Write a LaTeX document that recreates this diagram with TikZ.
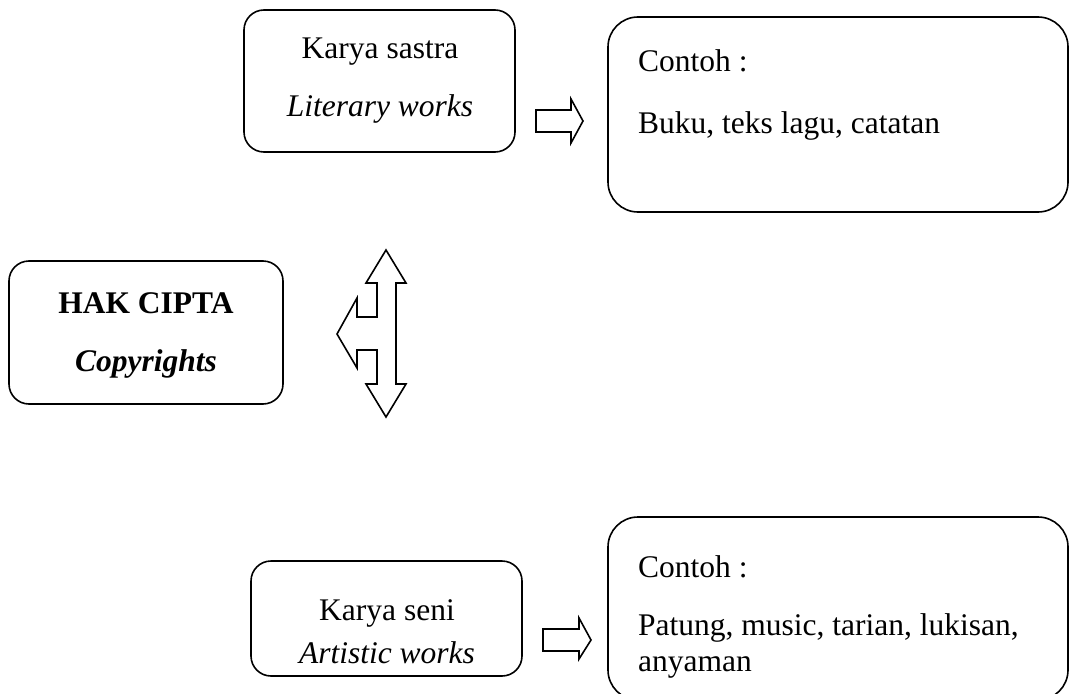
\documentclass[tikz,border=0pt]{standalone}
\usepackage{fontspec}
\setmainfont{Liberation Serif}
\begin{document}
\begin{tikzpicture}[x=1pt,y=-1pt,
  frame/.style={draw=black,line width=1.6pt,rounded corners=20pt},
  bigframe/.style={draw=black,line width=1.6pt,rounded corners=30pt},
  blockarrow/.style={draw=black,line width=1.6pt,fill=white,line join=miter},
  txt/.style={inner sep=0pt,font=\fontsize{31.5}{36}\selectfont},
  lbl/.style={txt,anchor=base west}]
\useasboundingbox (0,0) rectangle (1070,693);
% boxes
\draw[frame] (244,10) rectangle (515,152);
\draw[bigframe] (608,17) rectangle (1068,212);
\draw[frame] (9,261) rectangle (283,404);
\draw[frame] (251,561) rectangle (522,676);
\draw[bigframe] (608,517) rectangle (1068,700);
% texts
\node[txt,anchor=base] (ks) at (380,59) {Karya sastra};
\node[txt,anchor=base] (lw) at (380,116) {\itshape Literary works};
\node[lbl] (c1) at (638,71) {Contoh :};
\node[lbl] (b1) at (638,133) {Buku, teks lagu, catatan};
\node[txt,anchor=base] (hc) at (146,313) {\bfseries HAK CIPTA};
\node[txt,anchor=base] (cp) at (146,371) {\bfseries\itshape Copyrights};
\node[txt,anchor=base] (kse) at (387,620) {Karya seni};
\node[txt,anchor=base] (aw) at (387,663) {\itshape Artistic works};
\node[lbl] (c2) at (638,577) {Contoh :};
\node[lbl] (p2) at (638,635) {Patung, music, tarian, lukisan,};
\node[lbl] (a2) at (638,671) {anyaman};
% small block arrows
\draw[blockarrow] (536,110) -- (571,110) -- (571,99) -- (583,121) -- (571,143) -- (571,132) -- (536,132) -- cycle;
\draw[blockarrow] (543,629) -- (579,629) -- (579,618) -- (591,640) -- (579,659) -- (579,651) -- (543,651) -- cycle;
% three-way block arrow
\draw[blockarrow] (386,250) -- (406,283) -- (396,283) -- (396,384) -- (406,384) -- (386,417)
  -- (366,384) -- (377,384) -- (377,350) -- (357,350) -- (357,368) -- (337,334)
  -- (357,298) -- (357,317) -- (377,317) -- (377,283) -- (366,283) -- cycle;
\end{tikzpicture}
\end{document}
